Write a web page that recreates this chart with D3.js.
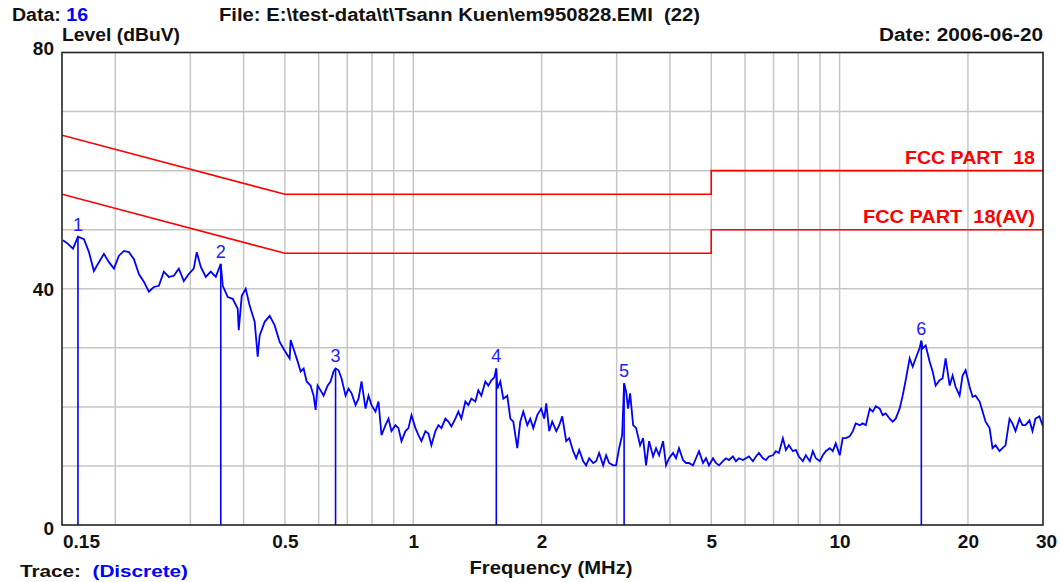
<!DOCTYPE html>
<html><head><meta charset="utf-8">
<script src="https://cdn.jsdelivr.net/npm/d3@7"></script>
<style>
body{margin:0;background:#fff}
svg{display:block}
text{font-family:"Liberation Sans",Arial,sans-serif;font-weight:bold;white-space:pre}
</style>
</head><body>
<svg id="c" width="1061" height="582"></svg>
<script>
// ---- data ----
const traceFreq = [
0.1508,0.1549,0.1592,0.1635,0.1689,0.1735,0.1782,0.1831,0.1881,0.1933,0.1986,0.2040,0.2096,0.2153,0.2212,0.2272,0.2334,0.2398,0.2463,0.2531,
0.2600,0.2671,0.2744,0.2819,0.2896,0.2975,0.3056,0.3106,0.3174,0.3261,0.3350,0.3442,0.3536,0.3574,0.3672,0.3772,0.3875,0.3896,0.3960,0.4046,0.4134,
0.4247,0.4316,0.4363,0.4482,0.4605,0.4731,0.4860,0.4993,0.5129,0.5157,0.5241,0.5355,0.5443,0.5532,0.5622,0.5744,0.5838,0.5901,0.5965,0.6062,0.6161,0.6296,0.6398,
0.6503,0.6573,0.6681,0.6789,0.6938,0.7051,0.7166,0.7322,0.7441,0.7563,0.7727,0.7853,0.7981,0.8155,0.8288,0.8424,0.8607,0.8748,0.8890,0.9084,
0.9232,0.9383,0.9588,0.9744,0.9903,1.0119,1.0284,1.0451,1.0679,1.0853,1.1030,1.1271,1.1455,1.1641,1.1895,1.2089,1.2286,1.2554,1.2759,1.2967,
1.3250,1.3466,1.3686,1.3984,1.4212,1.4444,1.4759,1.5000,1.5245,1.5493,1.5660,1.5746,1.6003,1.6264,1.6619,1.6890,1.7165,1.7539,1.7825,1.8116,
1.8511,1.8813,1.9120,1.9537,1.996,2.029,2.051,2.084,2.118,2.165,2.200,2.236,2.284,2.322,2.372,2.411,2.450,2.504,2.544,2.586,
2.642,2.685,2.729,2.789,2.834,2.880,2.943,2.991,3.040,3.090,3.123,3.157,3.191,3.226,3.279,3.332,3.405,3.460,3.516,3.574,
3.652,3.711,3.772,3.854,3.917,3.981,4.068,4.134,4.201,4.293,4.363,4.434,4.531,4.605,4.680,4.782,4.860,4.939,5.047,5.129,
5.213,5.327,5.414,5.502,5.622,5.713,5.807,5.933,6.030,6.128,6.262,6.364,6.468,6.609,6.717,6.826,6.975,7.089,7.204,7.362,
7.482,7.604,7.769,7.896,8.025,8.200,8.333,8.515,8.654,8.795,8.987,9.133,9.282,9.485,9.639,9.797,10.01,10.17,10.34,10.56,
10.74,10.91,11.15,11.33,11.52,11.77,11.96,12.16,12.42,12.62,12.83,13.11,13.32,13.54,13.83,14.06,14.29,14.60,14.84,15.08,
15.41,15.55,15.66,15.92,16.26,16.53,16.80,17.16,17.44,17.73,18.12,18.41,18.71,19.12,19.43,19.75,20.18,20.51,20.84,21.30,
21.65,22.00,22.48,22.84,23.22,23.72,24.11,24.50,25.04,25.44,25.86,26.42,26.85,27.29,27.89,28.34,28.80,29.43,30.0
];
const traceLevel = [
48.2,47.6,46.8,48.8,48.4,46.2,43.0,44.5,45.9,44.5,43.4,45.6,46.4,46.2,45.0,42.5,41.2,39.5,40.3,40.5,
42.9,42.0,42.2,43.4,41.3,42.5,43.4,46.2,43.7,42.0,42.9,42.0,44.2,40.5,38.6,38.3,36.6,33.0,38.8,40.0,37.1,
34.4,28.5,32.1,34.4,35.4,33.8,31.0,29.5,28.2,31.3,29.8,27.7,26.0,26.5,24.3,23.6,21.9,19.5,23.6,22.8,21.9,23.6,24.3,
26.0,26.5,26.2,24.8,21.9,23.1,22.3,20.3,21.4,24.3,19.7,21.9,20.3,19.2,20.9,15.2,16.9,18.0,15.9,16.9,
16.4,14.2,15.9,16.4,18.6,16.4,15.2,14.2,15.9,15.5,13.5,15.9,16.9,16.4,18.0,17.5,16.7,18.0,19.2,18.0,
20.9,20.3,21.4,20.9,22.8,21.9,24.3,23.6,24.5,25.0,26.5,23.1,24.3,21.4,21.9,18.0,17.5,13.0,17.5,19.2,
16.9,18.0,16.4,18.6,19.7,18.0,20.6,15.9,17.5,15.9,16.9,18.4,14.2,14.7,12.5,11.3,12.7,10.8,10.1,11.3,
10.5,10.8,12.2,10.1,11.8,10.5,10.1,10.1,13.0,15.2,24.0,22.6,19.7,22.3,16.9,16.4,13.5,14.7,10.1,14.2,
11.6,13.0,11.8,14.2,10.1,11.3,12.2,11.3,13.0,11.0,10.5,10.5,10.1,11.3,12.5,10.5,11.3,10.1,11.3,10.5,
10.1,10.8,11.3,11.0,11.6,10.8,11.3,11.0,11.3,11.6,10.8,11.6,12.2,11.3,11.0,11.6,11.8,12.5,12.2,14.7,
12.7,13.5,12.5,12.7,11.6,10.8,11.8,10.8,12.5,11.3,10.8,11.8,12.5,13.0,12.5,13.8,11.8,14.7,14.7,15.0,
15.9,17.2,16.9,17.2,16.9,19.7,19.2,20.1,19.7,18.6,18.9,18.0,17.5,18.0,19.7,21.9,24.5,28.2,26.8,28.2,
30.0,31.2,29.9,30.4,27.7,26.0,23.6,24.5,24.8,28.2,23.6,25.3,23.4,21.9,25.3,26.2,23.4,21.7,21.9,20.9,
19.2,17.5,16.4,13.0,13.5,12.5,13.0,13.5,18.0,17.2,15.9,18.0,16.9,16.9,17.7,15.9,18.0,18.4,16.7
];
const markerLabels = ["1","2","3","4","5","6"];
const markerFreq = [0.1635,0.3536,0.6573,1.566,3.123,15.55];
const markerLevel = [48.8,44.2,26.5,26.5,24.0,31.2];
const qpFreq = [0.15,0.5,5,5,30];
const qpLevel = [66,56,56,60,60];
const avFreq = [0.15,0.5,5,5,30];
const avLevel = [56,46,46,50,50];
const limitNames = ["FCC PART  18","FCC PART  18(AV)"];
const xTicks = [0.15,0.5,1,2,5,10,20,30];
const xTickLabels = ["0.15","0.5","1","2","5","10","20","30"];
const xGrid = [0.2,0.3,0.4,0.5,0.6,0.7,0.8,0.9,1,2,3,4,5,6,7,8,9,10,20];
const yTicks = [0,40,80];
const yGrid = [10,20,30,40,50,60,70];

// ---- layout ----
const L=62,R=1043,T=52.5,B=525;
const svg=d3.select("#c");
const x=d3.scaleLog().domain([0.15,30]).range([L,R]);
const y=d3.scaleLinear().domain([0,80]).range([B,T]);

svg.append("defs").append("clipPath").attr("id","clip")
  .append("rect").attr("x",L).attr("y",T).attr("width",R-L).attr("height",B-T);

// grid
const g=svg.append("g");
g.selectAll(".vg").data(xGrid).join("line")
  .attr("x1",d=>x(d)).attr("x2",d=>x(d)).attr("y1",T).attr("y2",B)
  .attr("stroke","#c6c6c6").attr("stroke-width",1.5);
g.selectAll(".hg").data(yGrid).join("line")
  .attr("x1",L).attr("x2",R).attr("y1",d=>y(d)).attr("y2",d=>y(d))
  .attr("stroke","#c6c6c6").attr("stroke-width",1.5);

const plot=svg.append("g").attr("clip-path","url(#clip)");
const line=d3.line().x(d=>x(d[0])).y(d=>y(d[1]));

// limit lines
plot.append("path").datum(d3.zip(qpFreq,qpLevel)).attr("d",line)
  .attr("fill","none").attr("stroke","#ff0000").attr("stroke-width",1.6);
plot.append("path").datum(d3.zip(avFreq,avLevel)).attr("d",line)
  .attr("fill","none").attr("stroke","#ff0000").attr("stroke-width",1.6);

// trace
plot.append("path").datum(d3.zip(traceFreq,traceLevel)).attr("d",line)
  .attr("fill","none").attr("stroke","#0000ff").attr("stroke-width",1.8)
  .attr("stroke-linejoin","miter");

// markers
const mk=d3.zip(markerFreq,markerLevel,markerLabels);
plot.selectAll(".mk").data(mk).join("line")
  .attr("x1",d=>x(d[0])).attr("x2",d=>x(d[0]))
  .attr("y1",d=>y(d[1])).attr("y2",B)
  .attr("stroke","#0000ff").attr("stroke-width",1.6);
svg.selectAll(".ml").data(mk).join("text")
  .attr("x",d=>x(d[0])).attr("y",d=>y(d[1])-6)
  .attr("text-anchor","middle").attr("fill","#2020ff")
  .style("font-weight","normal").style("font-size","18px")
  .text(d=>d[2]);

// frame
svg.append("rect").attr("x",L).attr("y",T).attr("width",R-L).attr("height",B-T)
  .attr("fill","none").attr("stroke","#222").attr("stroke-width",1.6);

// axes (D3 axes, styled)
const xAxis=d3.axisBottom(x).tickValues(xTicks).tickFormat((d,i)=>xTickLabels[i]).tickSize(0).tickPadding(0);
const xa=svg.append("g").attr("transform",`translate(0,${B})`).call(xAxis);
xa.select(".domain").remove();
xa.selectAll("text").attr("y",23).attr("dy",0).attr("fill","#111")
  .style("font-size","19px").style("font-weight","bold")
  .attr("font-family",null)
  .attr("dx",(d)=> d===0.15 ? 19 : (d===30 ? 3 : 0));

const yAxis=d3.axisLeft(y).tickValues(yTicks).tickFormat(d3.format("d")).tickSize(0).tickPadding(0);
const ya=svg.append("g").attr("transform",`translate(${L-8},0)`).call(yAxis);
ya.select(".domain").remove();
ya.selectAll("text").attr("x",0).attr("fill","#111")
  .style("font-size","19px").style("font-weight","bold")
  .attr("dy",d=> d===80 ? "0.12em" : (d===0 ? "0.5em" : "0.35em"));

// text helper
function txt(xp,yp,parts,opt={}){
  const t=svg.append("text").attr("x",xp).attr("y",yp)
    .attr("xml:space","preserve")
    .attr("text-anchor",opt.anchor||"start")
    .style("font-size",(opt.size||18)+"px");
  if(opt.len) t.attr("textLength",opt.len).attr("lengthAdjust","spacingAndGlyphs");
  parts.forEach(p=>t.append("tspan").attr("fill",p[1]).text(p[0]));
  return t;
}
txt(12,21,[["Data: ","#111"],["16","#0000ff"]],{len:76});
txt(219,21,[["File: E:\\test-data\\t\\Tsann Kuen\\em950828.EMI  (22)","#111"]],{len:481});
txt(62,41,[["Level (dBuV)","#111"]],{len:118});
txt(1043,41,[["Date: 2006-06-20","#111"]],{anchor:"end",len:164});
txt(1035,y(60)-7,[[limitNames[0],"#ff0000"]],{anchor:"end",len:130});
txt(1035,y(50)-7,[[limitNames[1],"#ff0000"]],{anchor:"end",len:172});
txt(551,574,[["Frequency (MHz)","#111"]],{anchor:"middle",len:163});
txt(20,577,[["Trace:  ","#111"],["(Discrete)","#0000ff"]],{len:168,size:17});
</script>
</body></html>
